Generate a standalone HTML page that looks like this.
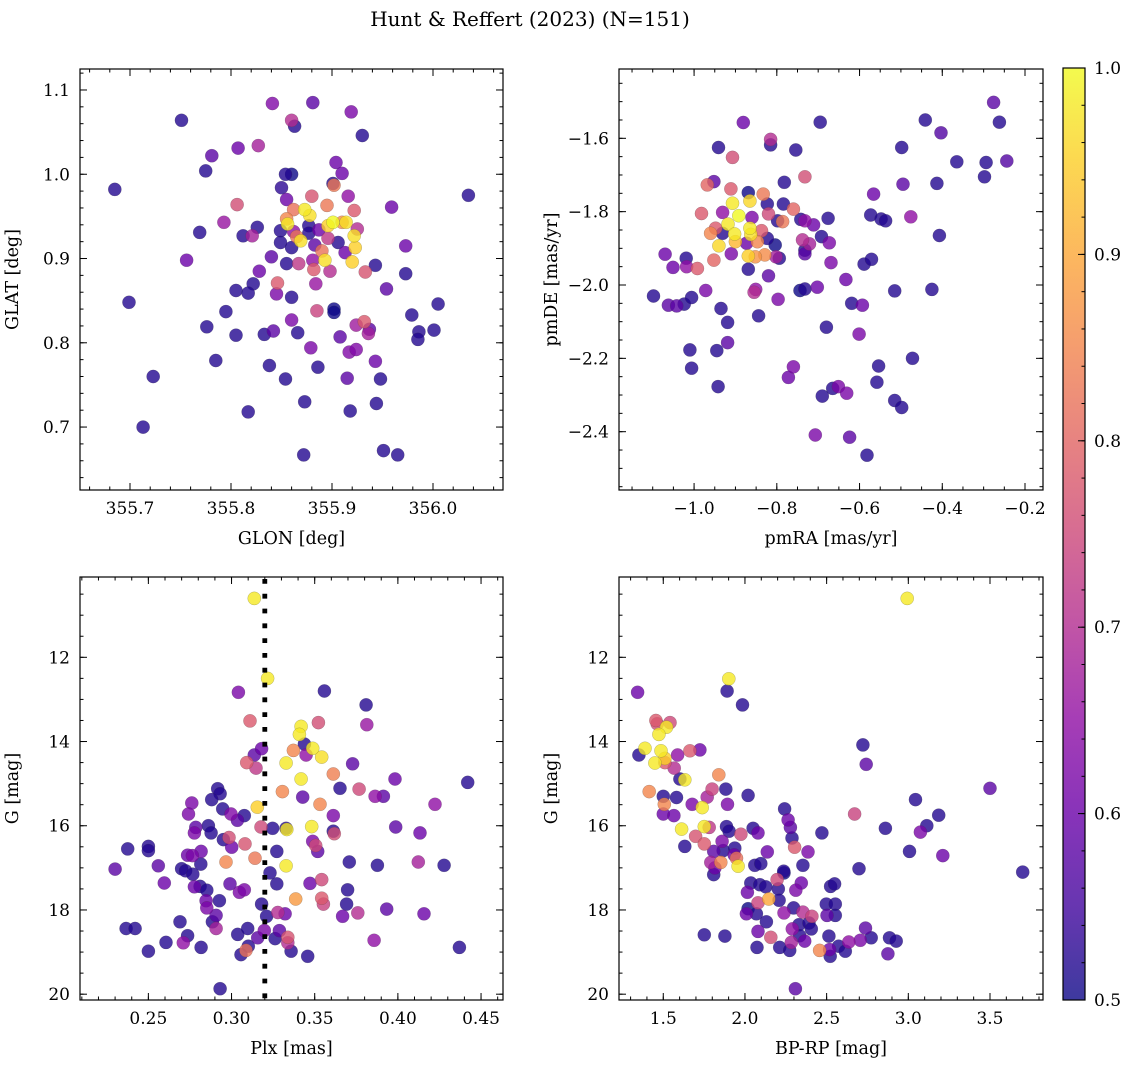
<!DOCTYPE html>
<html><head><meta charset="utf-8"><style>
html,body{margin:0;padding:0;background:#fff;}
svg{display:block;font-family:"DejaVu Serif","Liberation Serif",serif;}
</style></head><body>
<svg id="fig" width="1136" height="1067" viewBox="0 0 1136 1067" xmlns="http://www.w3.org/2000/svg">
<defs>
<linearGradient id="plasmaGrad" x1="0" y1="1" x2="0" y2="0">
<stop offset="0" stop-color="#0d0887"/><stop offset="0.1" stop-color="#41049d"/><stop offset="0.2" stop-color="#6a00a8"/><stop offset="0.3" stop-color="#8f0da4"/><stop offset="0.4" stop-color="#b12a90"/><stop offset="0.5" stop-color="#cc4778"/><stop offset="0.6" stop-color="#e16462"/><stop offset="0.7" stop-color="#f2844b"/><stop offset="0.8" stop-color="#fca636"/><stop offset="0.9" stop-color="#fcce25"/><stop offset="1" stop-color="#f0f921"/>
</linearGradient>
</defs>
<text x="530" y="26" font-size="20" text-anchor="middle">Hunt &amp; Reffert (2023) (N=151)</text>
</svg>
<script>
// ---- Data: top-left (GLON vs GLAT)
const tlGlon=[355.841,355.881,355.919,355.751,355.860,355.863,355.930,355.807,355.827,355.781,355.775,355.685,355.854,355.860,355.904,355.910,355.850,355.901,355.902,356.035,355.806,355.880,355.916,355.959,355.855,355.862,355.873,355.878,355.895,355.922,355.855,355.856,355.793,355.769,355.826,355.812,355.821,355.849,355.862,355.877,355.887,355.896,355.901,355.910,355.914,355.925,355.922,355.865,355.869,355.877,355.896,355.906,355.923,355.849,355.860,355.883,355.890,355.913,355.973,355.840,355.855,355.867,355.881,355.893,355.920,355.756,355.882,355.898,355.933,355.943,355.973,355.828,355.846,355.822,355.805,355.817,355.845,355.860,355.884,355.954,355.699,355.795,355.885,355.902,355.902,356.005,355.979,355.776,355.860,355.805,355.833,355.842,355.866,355.908,355.924,355.932,355.937,355.936,355.986,355.985,356.001,355.879,355.917,355.924,355.785,355.943,355.723,355.838,355.886,355.854,355.915,355.948,355.873,355.944,355.817,355.918,355.713,355.872,355.951,355.965];
const tlGlat=[1.084,1.085,1.074,1.064,1.064,1.057,1.046,1.031,1.034,1.022,1.004,0.982,1.000,1.000,1.014,1.001,0.984,0.989,0.987,0.975,0.964,0.974,0.974,0.961,0.970,0.958,0.958,0.951,0.963,0.957,0.947,0.941,0.943,0.931,0.937,0.927,0.927,0.933,0.932,0.939,0.934,0.939,0.943,0.943,0.943,0.935,0.927,0.926,0.921,0.930,0.924,0.919,0.913,0.919,0.913,0.916,0.909,0.907,0.915,0.902,0.894,0.894,0.898,0.898,0.896,0.898,0.887,0.885,0.884,0.892,0.882,0.885,0.871,0.870,0.862,0.859,0.858,0.854,0.870,0.864,0.848,0.837,0.838,0.840,0.836,0.846,0.833,0.819,0.827,0.809,0.810,0.814,0.812,0.807,0.821,0.825,0.816,0.811,0.813,0.804,0.815,0.794,0.789,0.792,0.779,0.778,0.760,0.773,0.771,0.757,0.758,0.757,0.730,0.728,0.718,0.719,0.700,0.667,0.672,0.667];
const tlProb=[0.63,0.58,0.62,0.52,0.70,0.52,0.52,0.60,0.68,0.58,0.52,0.52,0.52,0.50,0.60,0.60,0.53,0.52,0.83,0.52,0.76,0.77,0.65,0.60,0.60,0.82,0.98,0.97,0.83,0.78,0.85,0.98,0.66,0.52,0.52,0.52,0.68,0.52,0.65,0.52,0.60,0.95,1.00,0.86,0.97,0.70,0.97,0.82,0.97,0.52,0.72,0.52,0.95,0.52,0.52,0.58,0.82,0.60,0.60,0.58,0.52,0.72,0.65,0.97,0.95,0.60,0.78,0.70,0.77,0.52,0.52,0.60,0.78,0.52,0.52,0.52,0.62,0.52,0.66,0.58,0.52,0.52,0.74,0.50,0.50,0.52,0.52,0.52,0.62,0.52,0.52,0.58,0.52,0.58,0.67,0.78,0.58,0.68,0.52,0.52,0.52,0.62,0.63,0.63,0.52,0.60,0.52,0.52,0.52,0.52,0.58,0.52,0.52,0.52,0.52,0.52,0.52,0.52,0.52,0.52];
// ---- Data: top-right (pmRA vs pmDE)
const trPmra=[-0.276,-0.262,-0.441,-0.403,-0.881,-0.695,-0.815,-0.815,-0.941,-0.754,-0.498,-0.907,-0.365,-0.294,-0.244,-0.298,-0.732,-0.952,-0.968,-0.782,-0.495,-0.413,-0.911,-0.869,-0.833,-0.566,-0.907,-0.865,-0.823,-0.784,-0.760,-0.982,-0.931,-0.892,-0.860,-0.820,-0.798,-0.786,-0.742,-0.732,-0.711,-0.676,-0.573,-0.548,-0.537,-0.476,-0.918,-0.865,-0.948,-0.960,-0.931,-0.902,-0.863,-0.837,-0.823,-0.847,-0.940,-0.900,-0.873,-0.804,-0.738,-0.721,-0.692,-0.673,-0.407,-0.732,-1.070,-1.019,-0.910,-0.869,-0.852,-0.829,-0.794,-0.802,-0.732,-0.952,-1.051,-1.018,-0.992,-0.869,-0.669,-0.589,-0.571,-0.820,-0.633,-1.098,-1.062,-1.042,-1.024,-1.006,-0.972,-0.851,-0.855,-0.797,-0.744,-0.732,-0.702,-0.515,-0.425,-0.619,-0.593,-0.935,-0.919,-0.844,-0.680,-0.601,-1.010,-0.945,-0.919,-1.006,-0.472,-0.554,-0.760,-0.772,-0.558,-0.942,-0.665,-0.651,-0.690,-0.631,-0.515,-0.498,-0.707,-0.624,-0.582];
const trPmde=[-1.502,-1.556,-1.550,-1.585,-1.557,-1.556,-1.603,-1.618,-1.625,-1.632,-1.625,-1.652,-1.664,-1.666,-1.662,-1.705,-1.705,-1.718,-1.727,-1.720,-1.725,-1.723,-1.738,-1.748,-1.752,-1.752,-1.777,-1.771,-1.779,-1.779,-1.793,-1.805,-1.802,-1.811,-1.816,-1.806,-1.825,-1.827,-1.821,-1.825,-1.836,-1.818,-1.809,-1.820,-1.825,-1.814,-1.834,-1.845,-1.845,-1.859,-1.859,-1.861,-1.862,-1.852,-1.873,-1.882,-1.893,-1.882,-1.886,-1.891,-1.877,-1.888,-1.868,-1.885,-1.865,-1.905,-1.916,-1.927,-1.915,-1.921,-1.923,-1.918,-1.927,-1.923,-1.915,-1.932,-1.952,-1.950,-1.955,-1.957,-1.939,-1.943,-1.930,-1.975,-1.985,-2.030,-2.055,-2.057,-2.052,-2.034,-2.015,-2.012,-2.020,-2.039,-2.015,-2.011,-2.006,-2.016,-2.012,-2.050,-2.055,-2.064,-2.102,-2.084,-2.115,-2.134,-2.177,-2.179,-2.157,-2.227,-2.200,-2.221,-2.223,-2.252,-2.265,-2.277,-2.282,-2.277,-2.303,-2.295,-2.315,-2.334,-2.409,-2.415,-2.464];
const trProb=[0.58,0.52,0.52,0.57,0.60,0.52,0.70,0.52,0.52,0.52,0.52,0.76,0.52,0.52,0.57,0.52,0.76,0.58,0.80,0.52,0.58,0.52,0.78,0.50,0.83,0.60,0.98,0.96,0.52,0.52,0.80,0.78,0.65,1.00,0.62,0.75,0.52,0.83,0.52,0.65,0.60,0.52,0.52,0.52,0.52,0.65,0.98,0.98,0.78,0.85,0.52,0.98,0.97,0.78,0.52,0.85,0.96,0.92,0.60,0.50,0.70,0.68,0.52,0.62,0.52,0.52,0.60,0.52,0.62,0.95,0.87,0.86,0.52,0.68,0.58,0.80,0.60,0.65,0.78,0.52,0.62,0.52,0.52,0.58,0.60,0.52,0.58,0.58,0.52,0.52,0.62,0.65,0.70,0.62,0.50,0.52,0.60,0.52,0.52,0.52,0.60,0.52,0.52,0.52,0.52,0.62,0.52,0.52,0.58,0.52,0.52,0.52,0.62,0.60,0.52,0.52,0.52,0.62,0.52,0.62,0.52,0.52,0.62,0.58,0.52];
// ---- Data: bottom-left (Plx vs G)
const blPlx=[0.3137,0.3217,0.3041,0.3558,0.3809,0.3813,0.3111,0.3522,0.3418,0.3408,0.3438,0.3488,0.3372,0.3448,0.3542,0.3181,0.3137,0.3091,0.3147,0.3328,0.3728,0.3612,0.3418,0.3983,0.4420,0.2917,0.2931,0.2881,0.2761,0.3306,0.3428,0.3652,0.3767,0.3863,0.3913,0.4223,0.3532,0.3155,0.2741,0.2947,0.2997,0.3035,0.3077,0.3612,0.2785,0.2861,0.2877,0.2777,0.3177,0.3247,0.3328,0.3332,0.3482,0.3612,0.3618,0.3987,0.4133,0.2951,0.2985,0.3001,0.3081,0.3488,0.3506,0.3518,0.3272,0.2376,0.2500,0.2500,0.2736,0.2817,0.2765,0.3141,0.2967,0.2815,0.3328,0.3708,0.3877,0.4123,0.4278,0.2300,0.2560,0.2700,0.2724,0.2767,0.3231,0.2596,0.2777,0.2811,0.2851,0.2991,0.3047,0.3077,0.3272,0.3472,0.3542,0.3698,0.2847,0.2927,0.3386,0.3542,0.3552,0.3181,0.2851,0.3692,0.3933,0.3278,0.3322,0.3759,0.4157,0.2907,0.2885,0.2690,0.3211,0.3668,0.2366,0.2420,0.2907,0.2736,0.2710,0.2606,0.3037,0.3097,0.3197,0.3157,0.3288,0.3262,0.3338,0.3338,0.3857,0.2500,0.2817,0.3101,0.3087,0.3057,0.3358,0.3458,0.4370,0.2931];
const blG=[10.60,12.50,12.83,12.80,13.13,13.60,13.51,13.55,13.64,13.83,14.06,14.16,14.21,14.32,14.37,14.17,14.32,14.50,14.63,14.51,14.53,14.77,14.89,14.89,14.97,15.12,15.24,15.38,15.46,15.19,15.32,15.11,15.13,15.30,15.30,15.49,15.49,15.56,15.72,15.60,15.72,15.87,15.76,15.76,16.04,16.00,16.17,16.17,16.03,16.06,16.06,16.09,16.02,16.13,16.19,16.03,16.17,16.33,16.28,16.51,16.43,16.37,16.47,16.61,16.61,16.55,16.49,16.59,16.70,16.61,16.71,16.77,16.86,16.91,16.95,16.86,16.94,16.86,16.94,17.03,16.95,17.02,17.07,17.15,17.12,17.36,17.45,17.44,17.53,17.38,17.58,17.52,17.38,17.37,17.28,17.52,17.78,17.78,17.74,17.72,17.86,17.86,17.95,17.86,17.98,18.06,18.09,18.07,18.09,18.13,18.28,18.28,18.15,18.15,18.44,18.44,18.44,18.61,18.78,18.77,18.58,18.44,18.49,18.66,18.49,18.68,18.65,18.78,18.72,18.98,18.89,18.86,18.96,19.06,18.98,19.10,18.89,19.87];
const blProb=[0.98,0.98,0.62,0.52,0.52,0.66,0.78,0.76,0.98,0.98,0.52,0.98,0.85,0.65,0.97,0.60,0.58,0.78,0.72,0.98,0.58,0.84,0.98,0.60,0.52,0.52,0.52,0.52,0.62,0.85,0.58,0.52,0.75,0.65,0.58,0.65,0.85,0.95,0.62,0.52,0.63,0.58,0.52,0.62,0.58,0.52,0.52,0.62,0.75,0.52,0.52,0.98,0.98,0.52,0.76,0.58,0.60,0.52,0.76,0.60,0.77,0.62,0.75,0.58,0.52,0.52,0.52,0.52,0.60,0.60,0.62,0.83,0.85,0.52,0.98,0.52,0.52,0.68,0.52,0.58,0.58,0.52,0.52,0.52,0.52,0.60,0.60,0.52,0.52,0.58,0.62,0.62,0.52,0.60,0.75,0.52,0.60,0.52,0.88,0.78,0.74,0.52,0.62,0.52,0.58,0.70,0.60,0.70,0.60,0.58,0.52,0.52,0.52,0.60,0.52,0.52,0.68,0.52,0.65,0.52,0.52,0.52,0.62,0.58,0.58,0.52,0.77,0.70,0.65,0.52,0.52,0.52,0.82,0.52,0.52,0.52,0.52,0.52];
// ---- Data: bottom-right (BP-RP vs G)
const brColor=[2.993,1.901,1.891,1.985,1.343,1.455,1.541,1.463,1.520,1.473,2.722,2.742,1.388,1.351,1.486,1.510,1.449,1.510,1.588,1.663,1.724,1.567,1.602,1.632,1.840,1.414,1.500,1.506,1.581,1.677,1.738,1.769,1.799,1.883,1.893,2.019,1.500,1.565,1.612,1.751,1.781,1.698,1.751,1.632,1.887,1.903,1.975,2.050,2.080,1.860,1.809,1.867,1.938,1.934,1.948,1.852,1.791,1.816,1.809,1.958,2.060,2.097,2.137,2.243,2.264,2.278,2.288,2.304,2.386,2.471,2.355,2.237,2.239,2.345,2.036,2.091,2.127,2.197,2.204,2.015,2.311,2.146,2.209,2.080,2.524,2.549,2.671,2.698,2.860,3.007,3.044,3.113,3.074,3.186,3.211,3.500,3.700,2.498,2.553,2.502,2.553,2.019,2.009,2.070,2.298,2.239,2.355,2.410,2.131,2.331,2.392,2.290,2.406,2.080,2.335,1.751,1.877,2.158,2.514,2.738,2.773,2.885,2.926,2.636,2.706,2.366,2.284,2.074,2.213,2.274,2.457,2.518,2.522,2.573,2.614,2.875,2.309];
const brG=[10.60,12.51,12.80,13.13,12.83,13.50,13.55,13.58,13.66,13.83,14.08,14.54,14.16,14.32,14.22,14.40,14.51,14.50,14.32,14.22,14.20,14.63,14.89,14.91,14.79,15.19,15.30,15.49,15.33,15.49,15.57,15.32,15.13,15.13,15.49,15.28,15.72,15.76,16.08,16.02,16.04,16.25,16.43,16.49,16.02,16.13,16.20,16.06,16.17,16.37,16.61,16.59,16.53,16.69,16.77,16.87,16.87,17.00,17.16,16.96,16.94,16.90,16.62,15.60,15.86,16.04,16.29,16.51,16.62,16.17,16.94,17.08,17.12,17.36,17.36,17.40,17.45,17.28,17.50,17.58,17.53,17.74,17.77,17.83,17.44,17.38,15.72,17.02,16.06,16.61,15.38,16.00,16.15,15.75,16.71,15.11,17.10,17.86,17.86,18.13,18.13,17.97,18.09,18.09,17.95,18.07,18.05,18.15,18.28,18.35,18.31,18.45,18.45,18.51,18.61,18.59,18.62,18.65,18.62,18.43,18.66,18.66,18.74,18.76,18.72,18.74,18.77,18.89,18.89,18.96,18.96,18.94,19.10,18.86,18.98,19.04,19.87];
const brProb=[0.98,0.98,0.52,0.52,0.60,0.78,0.75,0.76,0.98,0.98,0.52,0.58,0.98,0.52,0.98,0.95,0.98,0.78,0.65,0.78,0.60,0.70,0.52,0.98,0.85,0.85,0.52,0.85,0.52,0.62,0.98,0.68,0.74,0.52,0.62,0.52,0.60,0.60,0.98,0.98,0.72,0.77,0.78,0.52,0.52,0.52,0.75,0.52,0.60,0.62,0.58,0.52,0.52,0.60,0.82,0.85,0.68,0.60,0.52,0.98,0.52,0.52,0.60,0.52,0.60,0.58,0.52,0.78,0.62,0.52,0.52,0.52,0.50,0.60,0.52,0.52,0.52,0.75,0.52,0.60,0.62,0.90,0.52,0.74,0.52,0.52,0.74,0.52,0.52,0.52,0.52,0.52,0.62,0.52,0.60,0.58,0.52,0.52,0.52,0.58,0.52,0.50,0.60,0.52,0.52,0.65,0.70,0.74,0.52,0.52,0.52,0.65,0.52,0.60,0.52,0.52,0.52,0.76,0.52,0.58,0.52,0.52,0.52,0.65,0.62,0.60,0.68,0.52,0.52,0.52,0.85,0.60,0.52,0.52,0.52,0.58,0.58];
// ---- Tick definitions
const tlXTicks=[355.7,355.8,355.9,356.0];
const tlYTicks=[0.7,0.8,0.9,1.0,1.1];
const trXTicks=[-1.0,-0.8,-0.6,-0.4,-0.2];
const trYTicks=[-2.4,-2.2,-2.0,-1.8,-1.6];
const blXTicks=[0.25,0.30,0.35,0.40,0.45];
const gTicks=[12,14,16,18,20];
const brXTicks=[1.5,2.0,2.5,3.0,3.5];
const cbTicks=[0.5,0.6,0.7,0.8,0.9,1.0];
const plxCut=[0.32];

const NS='http://www.w3.org/2000/svg';
const svg=document.getElementById('fig');
function el(tag,attrs,parent){const e=document.createElementNS(NS,tag);for(const k in attrs)e.setAttribute(k,attrs[k]);(parent||svg).appendChild(e);return e;}
const stops=[[13,8,135],[65,4,157],[106,0,168],[143,13,164],[177,42,144],[204,71,120],[225,100,98],[242,132,75],[252,166,54],[252,206,37],[240,249,33]];
function plasma(c){let t=(c-0.5)/0.5;t=Math.max(0,Math.min(1,t))*10;const i=Math.min(9,Math.floor(t));const f=t-i;const a=stops[i],b=stops[i+1];return 'rgb('+[0,1,2].map(j=>Math.round(a[j]+(b[j]-a[j])*f)).join(',')+')';}
function fmt(v,d){const s=Math.abs(v).toFixed(d);return v<0?'\u2212'+s:s;}

function panel(name,box,xd,yd,xt,yt,xdec,ydec,xminor,yminor,xlab,ylab,xs,ys,cs){
  const [L,T,R,B]=box;
  const sx=v=>L+(v-xd[0])/(xd[1]-xd[0])*(R-L);
  const sy=v=>B-(v-yd[0])/(yd[1]-yd[0])*(B-T);
  const g=el('g',{});
  
  
  const clip=el('clipPath',{id:'clip-'+name},g);
  el('rect',{x:L,y:T,width:R-L,height:B-T},clip);
  const pts=el('g',{'clip-path':'url(#clip-'+name+')'},g);
  
  
  const idx=xs.map((_,i)=>i).sort((a,b)=>cs[a]-cs[b]);
  idx.forEach(i=>{
    const c=el('circle',{cx:sx(xs[i]).toFixed(1),cy:sy(ys[i]).toFixed(1),r:6.6,fill:plasma(cs[i]),'fill-opacity':0.8,stroke:'rgba(60,60,60,0.35)','stroke-width':0.5},pts);
    
    
  });
  // ticks
  const tk=el('g',{stroke:'#000','stroke-width':1},g);
  const xlo=Math.min(xd[0],xd[1]),xhi=Math.max(xd[0],xd[1]);
  const ylo=Math.min(yd[0],yd[1]),yhi=Math.max(yd[0],yd[1]);
  for(let v=Math.ceil(xlo/xminor)*xminor;v<=xhi;v+=xminor){const x=sx(v);el('line',{x1:x,y1:B,x2:x,y2:B-3.5},tk);el('line',{x1:x,y1:T,x2:x,y2:T+3.5},tk);}
  for(let v=Math.ceil(ylo/yminor)*yminor;v<=yhi;v+=yminor){const y=sy(v);el('line',{x1:L,y1:y,x2:L+3.5,y2:y},tk);el('line',{x1:R,y1:y,x2:R-3.5,y2:y},tk);}
  xt.forEach(v=>{const x=sx(v);el('line',{x1:x,y1:B,x2:x,y2:B-7},tk);el('line',{x1:x,y1:T,x2:x,y2:T+7},tk);
    const t=el('text',{x:x,y:B+24,'font-size':17,'text-anchor':'middle'},g);t.textContent=fmt(v,xdec);
    });
  yt.forEach(v=>{const y=sy(v);if(y<T-1||y>B+1)return;el('line',{x1:L,y1:y,x2:L+7,y2:y},tk);el('line',{x1:R,y1:y,x2:R-7,y2:y},tk);
    const t=el('text',{x:L-10,y:y+6,'font-size':17,'text-anchor':'end'},g);t.textContent=fmt(v,ydec);
    });
  el('rect',{x:L,y:T,width:R-L,height:B-T,fill:'none',stroke:'#000','stroke-width':1.2},g);
  const xl=el('text',{x:(L+R)/2,y:B+54,'font-size':17.5,'text-anchor':'middle'},g);xl.textContent=xlab;
  
  const yx=L-62;
  const yl=el('text',{x:yx,y:(T+B)/2,'font-size':17.5,'text-anchor':'middle',transform:'rotate(-90 '+yx+' '+(T+B)/2+')'},g);yl.textContent=ylab;
  
  return {sx,sy,g};
}

panel('panel-glon-glat',[80,69,503,490],[355.6505,356.0693],[0.6253,1.1249],tlXTicks,tlYTicks,1,1,0.02,0.02,'GLON [deg]','GLAT [deg]',tlGlon,tlGlat,tlProb);
panel('panel-proper-motion',[619,69,1043,490],[-1.1815,-0.1565],[-2.559,-1.411],trXTicks,trYTicks,1,1,0.05,0.05,'pmRA [mas/yr]','pmDE [mas/yr]',trPmra,trPmde,trProb);
const bl=panel('panel-plx-g',[80,577,503,1000],[0.2089,0.4632],[20.138,10.093],blXTicks,gTicks,2,0,0.01,0.5,'Plx [mas]','G [mag]',blPlx,blG,blProb);
panel('panel-cmd',[619,577,1043,1000],[1.229,3.8245],[20.138,10.093],brXTicks,gTicks,1,0,0.1,0.5,'BP-RP [mag]','G [mag]',brColor,brG,brProb);

// dotted parallax cut line
plxCut.forEach(v=>{
  const ln=el('line',{x1:bl.sx(v),y1:579,x2:bl.sx(v),y2:1000,stroke:'#000','stroke-width':4.8,'stroke-dasharray':'4.8 10'});
  
  
});

// colorbar
const cb=el('g',{});


const cL=1063,cR=1085,cT=68,cB=1000;
el('rect',{x:cL,y:cT,width:cR-cL,height:cB-cT,fill:'url(#plasmaGrad)','fill-opacity':0.8},cb);
const cy=v=>cB-(v-0.5)/0.5*(cB-cT);
for(let k=0;k<=25;k++){const v=0.5+k*0.02;el('line',{x1:cR,y1:cy(v),x2:cR-3.5,y2:cy(v),stroke:'#000','stroke-width':1},cb);}
cbTicks.forEach(v=>{el('line',{x1:cR,y1:cy(v),x2:cR-7,y2:cy(v),stroke:'#000','stroke-width':1},cb);
  const t=el('text',{x:1094,y:cy(v)+6,'font-size':17},cb);t.textContent=v.toFixed(1);
  });
el('rect',{x:cL,y:cT,width:cR-cL,height:cB-cT,fill:'none',stroke:'#000','stroke-width':1.2},cb);
</script>
</body></html>
